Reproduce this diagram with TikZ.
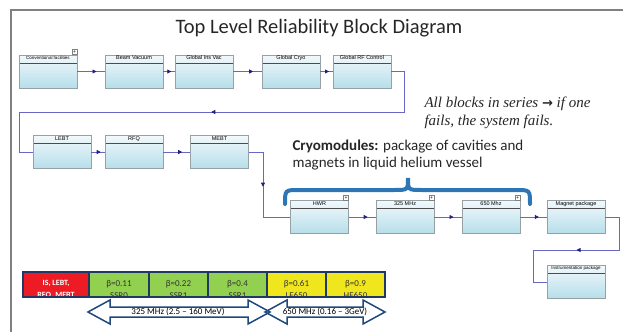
\documentclass[tikz,border=0pt]{standalone}
\usepackage{fontspec}
\setmainfont{Carlito}
\newfontfamily\blockfont{Liberation Sans}
\newfontfamily\notefont{Liberation Serif}
\newfontfamily\symfont{DejaVu Sans}
\usetikzlibrary{arrows.meta,decorations.markings,shadows}

\definecolor{connLine}{RGB}{104,104,196}
\definecolor{connHead}{RGB}{32,32,128}
\definecolor{blockTop}{RGB}{242,249,252}
\definecolor{blockBot}{RGB}{182,222,234}
\definecolor{blockEdge}{RGB}{150,160,165}
\definecolor{braceBlue}{RGB}{46,117,182}
\definecolor{barNavy}{RGB}{31,56,100}
\definecolor{cellRed}{RGB}{237,28,36}
\definecolor{cellGreen}{RGB}{146,208,80}
\definecolor{cellYellow}{RGB}{240,230,30}
\definecolor{arrowNavy}{RGB}{31,73,125}
\definecolor{frameGray}{RGB}{128,128,128}

\newcommand{\tinylbl}{\fontsize{4.5}{5}\selectfont}

\begin{document}
\begin{tikzpicture}
  [x=1pt,y=-1pt,
   block/.style={draw=blockEdge,top color=blockTop,bottom color=blockBot,
     minimum width=58pt,minimum height=33pt,inner sep=0pt,
     drop shadow={shadow xshift=0.8pt,shadow yshift=-0.8pt,fill=gray!60,opacity=1},
     label={[anchor=north,inner sep=0.8pt,font=\blockfont\fontsize{5.5}{6}\selectfont]north:#1},
     path picture={\draw[gray!60!black,line width=0.5pt]
       ([yshift=-8pt]path picture bounding box.north west) --
       ([yshift=-8pt]path picture bounding box.north east);}},
   plusbox/.style={draw=gray,fill=white,minimum size=5pt,inner sep=0pt,
     font=\blockfont\fontsize{5}{5}\selectfont},
   flow/.style={draw=connLine,line width=0.8pt,postaction={decorate},
     decoration={markings,mark=at position #1 with
       {\arrow{Triangle[length=4pt,width=4pt,color=connHead]}}}},
   flow/.default=0.7,
   cell/.style={draw=barNavy,line width=1.5pt,minimum height=25pt,inner sep=0pt},
   celltext/.style={align=center,font=\fontsize{9}{12}\selectfont,text=black!80},
   bigarrow/.style={draw=arrowNavy,line width=1.5pt,line join=miter}]

  \useasboundingbox (0,0) rectangle (623,332);
  \draw[frameGray,line width=1.2pt] (11,332) -- (11,10) -- (623,10);

  \node[font=\fontsize{20.5}{22}\selectfont,text=black!85] (title) at (319,28)
    {Top Level Reliability Block Diagram};

  % first row
  \node[block={\tinylbl Conventional facilities}] (cf) at (48,71.5) {};
  \node[block=Beam Vacuum]       (bv)  at (134,71.5) {};
  \node[block=Global Ins Vac]    (giv) at (204,71.5) {};
  \node[block=Global Cryo]       (gc)  at (291,71.5) {};
  \node[block=Global RF Control] (grf) at (362,71.5) {};

  % second row
  \node[block=LEBT] (lebt) at (62,152) {};
  \node[block=RFQ]  (rfq)  at (134,152) {};
  \node[block=MEBT] (mebt) at (219.5,152) {};

  % cryomodules
  \node[block=HWR]      (hwr)  at (319.5,217) {};
  \node[block=325 MHz]  (c325) at (405,217) {};
  \node[block=650 Mhz]  (c650) at (491,217) {};
  \node[block=Magnet package] (mag) at (576,217) {};
  \node[block={\tinylbl Instrumentation package}] (instr) at (576,282) {};

  \node[plusbox,anchor=south east] (cf-p)   at (cf.north east)   {+};
  \node[plusbox,anchor=south east] (hwr-p)  at (hwr.north east)  {+};
  \node[plusbox,anchor=south east] (c325-p) at (c325.north east) {+};
  \node[plusbox,anchor=south east] (c650-p) at (c650.north east) {+};

  \draw[flow] (cf) -- (bv);
  \draw[flow] (bv) -- (giv);
  \draw[flow] (giv) -- (gc);
  \draw[flow] (gc) -- (grf);
  \draw[flow=0.5] (grf.east) -- (404,71.5) -- (404,112) -- (19,112) -- (19,152) -- (lebt.west);
  \draw[flow] (lebt) -- (rfq);
  \draw[flow] (rfq) -- (mebt);
  \draw[flow=0.46] (mebt.east) -- (263,152) -- (263,217) -- (hwr.west);
  \draw[flow] (hwr) -- (c325);
  \draw[flow] (c325) -- (c650);
  \draw[flow] (c650) -- (mag);
  \draw[flow=0.5] (mag.east) -- (619,217) -- (619,250) -- (533,250) -- (533,282) -- (instr.west);

  % brace and notes
  \draw[braceBlue,line width=4pt,line cap=round]
    (285,204) .. controls (285,190) .. (299,190) -- (394,190)
    .. controls (408,190) .. (408,178) .. controls (408,190) .. (422,190)
    -- (516,190) .. controls (530,190) .. (530,204);
  \node[anchor=north west,align=left,font=\fontsize{15}{17}\selectfont,text=black!85]
    (cryo) at (289,136) {\textbf{Cryomodules:} package of cavities and\\magnets in liquid helium vessel};
  \node[anchor=north west,align=left,font=\notefont\itshape\fontsize{15}{18}\selectfont,text=black!85]
    (note) at (421,93) {All blocks in series {\symfont\bfseries\fontsize{13}{13}\selectfont →} if one\\fails, the system fails.};

  % bar of sections
  \node[cell,fill=cellRed,minimum width=66pt]    (is)   at (56,284.5) {};
  \node[cell,fill=cellGreen,minimum width=60pt]  (ssr0) at (119,284.5) {};
  \node[cell,fill=cellGreen,minimum width=59pt]  (ssr1) at (178.5,284.5) {};
  \node[cell,fill=cellGreen,minimum width=59pt]  (ssr2) at (237.5,284.5) {};
  \node[cell,fill=cellYellow,minimum width=59pt] (lb)   at (296.5,284.5) {};
  \node[cell,fill=cellYellow,minimum width=59pt] (hb)   at (355.5,284.5) {};
  \begin{scope}
    \clip (23,270) rectangle (385,298.5);
    \node[celltext,text=white,font=\bfseries\fontsize{8}{12}\selectfont] (is-t) at (56,289) {IS, LEBT,\\RFQ, MEBT};
    \node[celltext] (ssr0-t) at (119,289)   {β=0.11\\SSR0};
    \node[celltext] (ssr1-t) at (178.5,289) {β=0.22\\SSR1};
    \node[celltext] (ssr2-t) at (237.5,289) {β=0.4\\SSR1};
    \node[celltext] (lb-t)   at (296.5,289) {β=0.61\\LE650};
    \node[celltext] (hb-t)   at (355.5,289) {β=0.9\\HE650};
  \end{scope}
  \draw[barNavy,line width=2.5pt] (23,272) rectangle (385,297);

  % energy ranges
  \draw[bigarrow] (88,312) -- (110,300) -- (110,307) -- (248,307) -- (248,300) -- (270,312)
    -- (248,324) -- (248,317) -- (110,317) -- (110,324) -- cycle;
  \draw[bigarrow] (265,312) -- (287,300) -- (287,307) -- (363,307) -- (363,300) -- (385,312)
    -- (363,324) -- (363,317) -- (287,317) -- (287,324) -- cycle;
  \node[font=\fontsize{9}{10}\selectfont] (band1) at (178,311.5) {325 MHz (2.5 – 160 MeV)};
  \node[font=\fontsize{9}{10}\selectfont] (band2) at (325,311.5) {650 MHz (0.16 – 3GeV)};
\end{tikzpicture}
\end{document}
